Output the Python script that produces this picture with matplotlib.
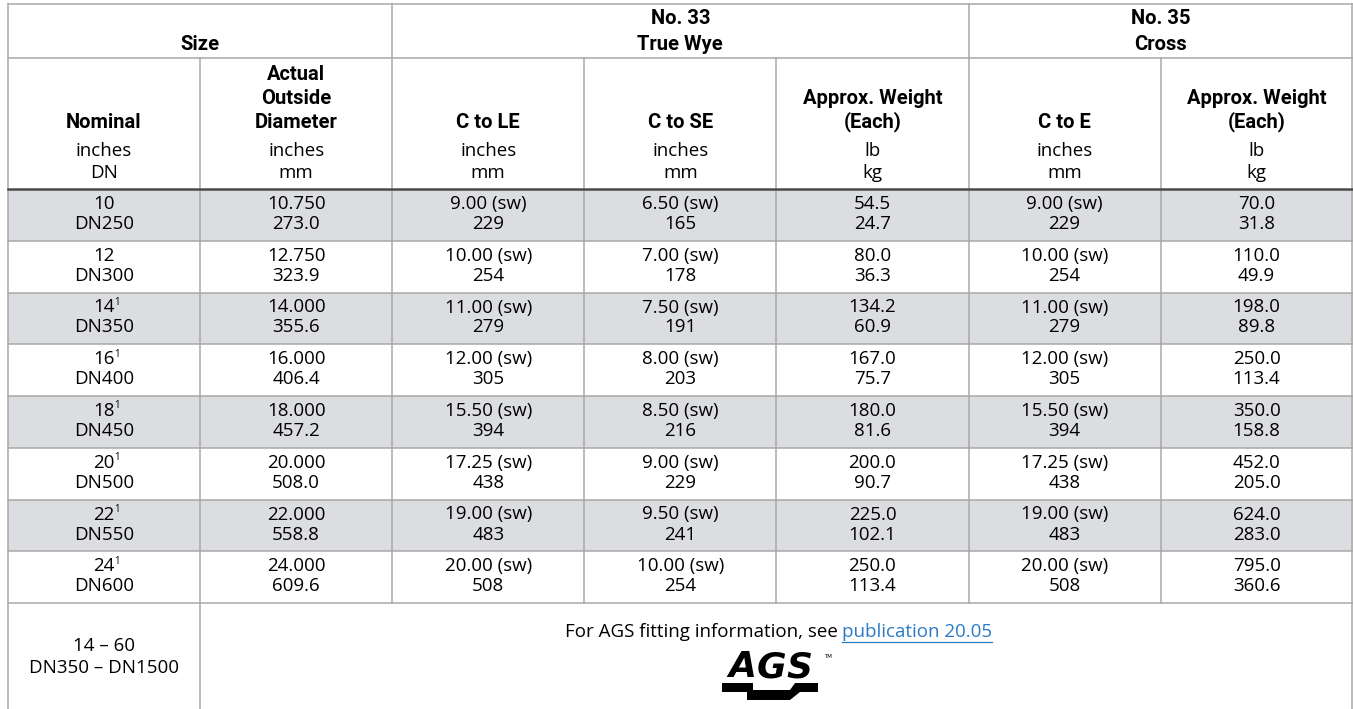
import matplotlib.pyplot as plt
from matplotlib.patches import Rectangle, Polygon

# table data (text values as printed)
nominal_in = ["10", "12", "14", "16", "18", "20", "22", "24"]
nominal_note = [False, False, True, True, True, True, True, True]
nominal_dn = ["DN250", "DN300", "DN350", "DN400", "DN450", "DN500", "DN550", "DN600"]
od_in = ["10.750", "12.750", "14.000", "16.000", "18.000", "20.000", "22.000", "24.000"]
od_mm = ["273.0", "323.9", "355.6", "406.4", "457.2", "508.0", "558.8", "609.6"]
wye_cle_in = ["9.00", "10.00", "11.00", "12.00", "15.50", "17.25", "19.00", "20.00"]
wye_cle_mm = ["229", "254", "279", "305", "394", "438", "483", "508"]
wye_cse_in = ["6.50", "7.00", "7.50", "8.00", "8.50", "9.00", "9.50", "10.00"]
wye_cse_mm = ["165", "178", "191", "203", "216", "229", "241", "254"]
wye_wt_lb = ["54.5", "80.0", "134.2", "167.0", "180.0", "200.0", "225.0", "250.0"]
wye_wt_kg = ["24.7", "36.3", "60.9", "75.7", "81.6", "90.7", "102.1", "113.4"]
cross_cte_in = ["9.00", "10.00", "11.00", "12.00", "15.50", "17.25", "19.00", "20.00"]
cross_cte_mm = ["229", "254", "279", "305", "394", "438", "483", "508"]
cross_wt_lb = ["70.0", "110.0", "198.0", "250.0", "350.0", "452.0", "624.0", "795.0"]
cross_wt_kg = ["31.8", "49.9", "89.8", "113.4", "158.8", "205.0", "283.0", "360.6"]

group_titles = ["Size", "No. 33\nTrue Wye", "No. 35\nCross"]
col_titles = ["Nominal", "Actual\nOutside\nDiameter", "C to LE", "C to SE",
              "Approx. Weight\n(Each)", "C to E", "Approx. Weight\n(Each)"]
col_units = [("inches", "DN"), ("inches", "mm"), ("inches", "mm"), ("inches", "mm"),
             ("lb", "kg"), ("inches", "mm"), ("lb", "kg")]

W, H = 1353, 709
BODY = ["Open Sans", "DejaVu Sans"]
HEAD = ["Roboto", "DejaVu Sans"]
GRID = "#a8a8a8"
SHADE = "#dcdde0"

fig = plt.figure(figsize=(W / 100, H / 100), dpi=100)
ax = fig.add_axes([0, 0, 1, 1])
ax.set_xlim(0, W)
ax.set_ylim(H, 0)
ax.axis("off")

x0, cw, ncol = 8, 192.1, 7
xs = [x0 + i * cw for i in range(ncol + 1)]
centers = [(xs[i] + xs[i + 1]) / 2 for i in range(ncol)]
top, h1, body_top, rh, nrow = 4, 58, 189, 51.75, 8
ys = [body_top + i * rh for i in range(nrow + 1)]

# shaded rows
for r in range(0, nrow, 2):
    ax.add_patch(Rectangle((xs[0], ys[r]), xs[-1] - xs[0], rh, color=SHADE, lw=0, zorder=0))

# grid lines
lw = 1.1
for y in [top, h1] + ys[1:]:
    ax.plot([xs[0], xs[-1]], [y, y], color=GRID, lw=lw, zorder=2)
ax.plot([xs[0], xs[-1]], [body_top, body_top], color="#4a4a4a", lw=1.8, zorder=3)
ax.plot([xs[0], xs[0]], [top, H], color=GRID, lw=lw)
ax.plot([xs[-1] - 1, xs[-1] - 1], [top, H], color=GRID, lw=lw)
ax.plot([xs[1], xs[1]], [h1, H], color=GRID, lw=lw)
for i in [2, 5]:
    ax.plot([xs[i], xs[i]], [top, ys[-1]], color=GRID, lw=lw)
for i in [3, 4, 6]:
    ax.plot([xs[i], xs[i]], [h1, ys[-1]], color=GRID, lw=lw)

HS = 14.5
BS = 13.5
LS_H = 24


def stack(x, lines, y_last, step, **kw):
    n = len(lines)
    for k, s in enumerate(lines):
        ax.text(x, y_last - (n - 1 - k) * step, s, ha="center", va="center", **kw)


# group header row
group_x = [(xs[0] + xs[2]) / 2, (xs[2] + xs[5]) / 2, (xs[5] + xs[7]) / 2]
for gx, t in zip(group_x, group_titles):
    stack(gx, t.split("\n"), 44, 25, family=HEAD, fontsize=HS, fontweight="bold")

# column header row
for cx, t, (u1, u2) in zip(centers, col_titles, col_units):
    stack(cx, t.split("\n"), 122, LS_H, family=HEAD, fontsize=HS, fontweight="bold")
    ax.text(cx, 151, u1, ha="center", va="center", family=BODY, fontsize=BS)
    ax.text(cx, 173, u2, ha="center", va="center", family=BODY, fontsize=BS)

# body
cols = [
    (nominal_in, nominal_dn),
    (od_in, od_mm),
    ([v + " (sw)" for v in wye_cle_in], wye_cle_mm),
    ([v + " (sw)" for v in wye_cse_in], wye_cse_mm),
    (wye_wt_lb, wye_wt_kg),
    ([v + " (sw)" for v in cross_cte_in], cross_cte_mm),
    (cross_wt_lb, cross_wt_kg),
]
for c, (top_vals, bot_vals) in enumerate(cols):
    for r in range(nrow):
        yt = ys[r] + 15
        yb = ys[r] + 35
        ax.text(centers[c], yt, top_vals[r], ha="center", va="center", family=BODY, fontsize=BS)
        ax.text(centers[c], yb, bot_vals[r], ha="center", va="center", family=BODY, fontsize=BS)
        if c == 0 and nominal_note[r]:
            ax.text(centers[c] + 10, yt - 5, "1", ha="left", va="center", family=BODY, fontsize=7)

# AGS row
ax.text(centers[0], 646, "14 \u2013 60", ha="center", va="center", family=BODY, fontsize=BS)
ax.text(centers[0], 668, "DN350 \u2013 DN1500", ha="center", va="center", family=BODY, fontsize=BS)

split = 838
ax.text(split, 632, "For AGS fitting information, see", ha="right", va="center", family=BODY, fontsize=BS)
link = ax.text(split + 4, 632, "publication 20.05", ha="left", va="center",
               family=BODY, fontsize=BS, color="#2b7bc4")
fig.canvas.draw()
bb = link.get_window_extent().transformed(ax.transData.inverted())
ax.plot([bb.x0, bb.x1], [642, 642], color="#2b7bc4", lw=0.9)

# AGS logo
cx = 770
for dx, ch in zip([-28, 1, 29], "AGS"):
    ax.text(cx + dx, 667, ch, ha="center", va="center", family="DejaVu Sans",
            fontsize=26, fontweight="heavy", style="italic")
ax.text(cx + 54, 656, "TM", ha="left", va="center", family="DejaVu Sans", fontsize=4)
bar = [(cx - 48, 683), (cx - 17, 683), (cx - 17, 690), (cx + 20, 690), (cx + 25, 683),
       (cx + 48, 683), (cx + 48, 692), (cx + 30, 692), (cx + 20, 700), (cx - 23, 700),
       (cx - 23, 692), (cx - 48, 692)]
ax.add_patch(Polygon(bar, closed=True, color="black", lw=0))

fig.savefig("out.png", dpi=100)
